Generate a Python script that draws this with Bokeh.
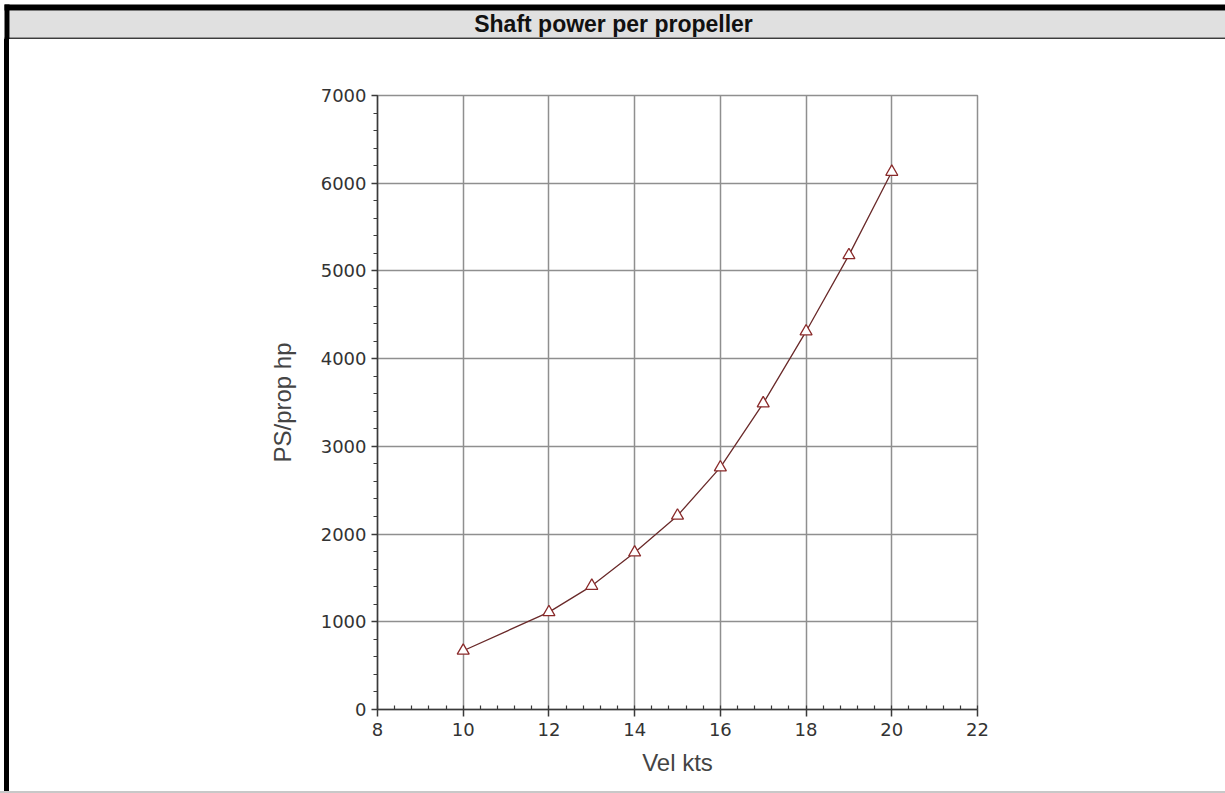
from bokeh.plotting import figure
from bokeh.layouts import column, row
from bokeh.models import Range1d, SingleIntervalTicker, Spacer
from bokeh.core.properties import value
from bokeh.embed import file_html
from bokeh.resources import INLINE

# ---- data ----
vel_kts = [10, 12, 13, 14, 15, 16, 17, 18, 19, 20]
ps_prop_hp = [670, 1110, 1410, 1790, 2210, 2760, 3490, 4310, 5180, 6130]
x_start, x_end, x_step = 8, 22, 2
y_start, y_end, y_step = 0, 7000, 1000
title_text = "Shaft power per propeller"
x_label = "Vel kts"
y_label = "PS/prop hp"

# ---- overall geometry ----
W, H = 1225, 793
HEAD_H = 39          # title bar strip
FOOT_H = 2           # bottom edge line
GAP_W, SIDE_W = 4, 5 # left window border
MAIN_W = W - GAP_W - SIDE_W
MAIN_H = H - HEAD_H - FOOT_H

# ---- title bar ----
head = figure(width=W, height=HEAD_H, output_backend="svg", toolbar_location=None,
              x_range=Range1d(0, W), y_range=Range1d(HEAD_H, 0),
              x_axis_type=None, y_axis_type=None,
              min_border=0, min_border_left=0, min_border_right=0,
              min_border_top=0, min_border_bottom=0,
              background_fill_color="white", border_fill_color="white")
head.outline_line_color = None
head.quad(left=[9], right=[W], top=[10], bottom=[37],
          fill_color="#e0e0e0", line_color=None)
head.quad(left=[4], right=[W], top=[37], bottom=[38.5],
          fill_color="#3c3c3c", line_color=None)
head.quad(left=[4], right=[W], top=[4], bottom=[10],
          fill_color="#000000", line_color=None)
head.quad(left=[4], right=[9], top=[4], bottom=[HEAD_H],
          fill_color="#000000", line_color=None)
head.text(x=[613], y=[23.5], text=[title_text], text_align="center",
          text_baseline="middle", text_font=value("Liberation Sans"),
          text_font_size=value("23px"), text_font_style="bold",
          text_color="#111111")

# ---- left border strip (plain layout boxes) ----
gap = Spacer(width=GAP_W, height=MAIN_H)
side = Spacer(width=SIDE_W, height=MAIN_H, styles={"background-color": "#000000"})
foot = Spacer(width=W, height=FOOT_H, styles={"background-color": "#c8c8c8"})

# ---- main chart ----
FRAME_L, FRAME_R = 377 - GAP_W - SIDE_W, 977 - GAP_W - SIDE_W
FRAME_T, FRAME_B = 95 - HEAD_H, 709 - HEAD_H

p = figure(width=MAIN_W, height=MAIN_H, output_backend="svg",
           toolbar_location=None,
           x_range=Range1d(x_start, x_end), y_range=Range1d(y_start, y_end),
           min_border_left=FRAME_L, min_border_right=MAIN_W - FRAME_R,
           min_border_top=FRAME_T, min_border_bottom=MAIN_H - FRAME_B,
           background_fill_color="white", border_fill_color="white")

xt = SingleIntervalTicker(interval=x_step, num_minor_ticks=5)
yt = SingleIntervalTicker(interval=y_step, num_minor_ticks=5)
p.xaxis.ticker = xt
p.yaxis.ticker = yt
p.xgrid[0].ticker = xt
p.ygrid[0].ticker = yt

for g in (p.xgrid[0], p.ygrid[0]):
    g.grid_line_color = "#8f8f8f"
    g.grid_line_width = 1.5

p.outline_line_color = "#8f8f8f"
p.outline_line_width = 1.5

for ax in (p.xaxis[0], p.yaxis[0]):
    ax.axis_line_color = "#3a3a3a"
    ax.axis_line_width = 1.5
    ax.major_tick_line_color = "#3a3a3a"
    ax.major_tick_line_width = 1.5
    ax.minor_tick_line_color = "#3a3a3a"
    ax.minor_tick_line_width = 1.2
    ax.major_label_text_font = "DejaVu Sans"
    ax.major_label_text_font_size = "18px"
    ax.major_label_text_color = "#333333"
    ax.axis_label_text_font = "Liberation Sans"
    ax.axis_label_text_font_size = "24px"
    ax.axis_label_text_font_style = "normal"
    ax.axis_label_text_color = "#444444"

xa = p.xaxis[0]
xa.axis_label = x_label
xa.major_tick_in = 0
xa.major_tick_out = 7
xa.minor_tick_in = 4
xa.minor_tick_out = 0
xa.major_label_standoff = 6
xa.axis_label_standoff = 10

ya = p.yaxis[0]
ya.axis_label = y_label
ya.major_tick_in = 0
ya.major_tick_out = 6
ya.minor_tick_in = 0
ya.minor_tick_out = 4
ya.major_label_standoff = 5
ya.axis_label_standoff = 22

p.line(vel_kts, ps_prop_hp, line_color="#6a2a2a", line_width=1.3)
p.scatter(vel_kts, ps_prop_hp, marker="triangle", size=12,
          fill_color="white", line_color="#8a2a2a", line_width=1.3)

page = column(head, row(gap, side, p, spacing=0), foot, spacing=0)

open("out.html", "w").write(file_html(page, INLINE))
